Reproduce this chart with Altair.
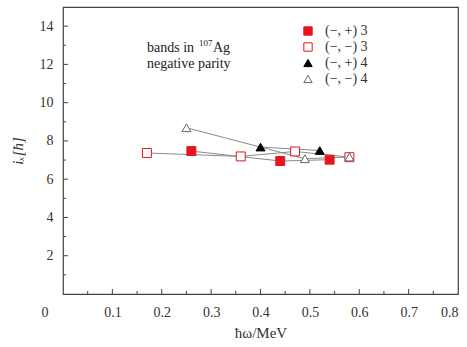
import altair as alt
import pandas as pd

bands = ["(−, +) 3", "(−, −) 3", "(−, +) 4", "(−, −) 4"]
x_a = [0.26, 0.44, 0.54]
y_a = [7.47, 6.95, 7.02]
x_b = [0.17, 0.36, 0.47, 0.58]
y_b = [7.37, 7.19, 7.45, 7.15]
x_c = [0.40, 0.52]
y_c = [7.68, 7.50]
x_d = [0.25, 0.49, 0.58]
y_d = [8.69, 7.07, 7.16]

fills = ["#e8141c", "white", "black", "white"]
strokes = ["#e8141c", "#e8141c", "black", "#666666"]
shapes = ["square", "square", "triangle-up", "triangle-up"]

rows = []
for b, xs, ys in zip(bands, [x_a, x_b, x_c, x_d], [y_a, y_b, y_c, y_d]):
    for i, (xv, yv) in enumerate(zip(xs, ys)):
        rows.append({"band": b, "w": xv, "ix": yv, "k": i})
df = pd.DataFrame(rows)

x_labels = [0, 0.1, 0.2, 0.3, 0.4, 0.5, 0.6, 0.7, 0.8]
x_major = [0.1, 0.2, 0.3, 0.4, 0.5, 0.6, 0.7]
x_minor = [0.05, 0.15, 0.25, 0.35, 0.45, 0.55, 0.65, 0.75]
y_major = [2, 4, 6, 8, 10, 12, 14]
y_minor = [1, 3, 5, 7, 9, 11, 13]

W, H = 395, 287
SERIF = "Liberation Serif"

xs = alt.Scale(domain=[0, 0.8], nice=False)
ys = alt.Scale(domain=[0, 15], nice=False)

base = alt.Chart(df)

xaxis = alt.Axis(title="ħω/MeV", values=x_labels, format=".1f",
                 labelExpr="datum.value == 0 ? '' : datum.label", titlePadding=6)
yaxis = alt.Axis(title="iₓ[ħ]", values=y_major, titleFontStyle="italic", titlePadding=14,
                 labelPadding=10)

lines = base.mark_line(color="#8a8a8a", strokeWidth=1).encode(
    x=alt.X("w:Q", scale=xs, axis=xaxis),
    y=alt.Y("ix:Q", scale=ys, axis=yaxis),
    detail="band:N",
    order="k:Q",
)

sc_shape = alt.Scale(domain=bands, range=shapes)
sc_fill = alt.Scale(domain=bands, range=fills)
sc_stroke = alt.Scale(domain=bands, range=strokes)
leg = alt.Legend(title=None, orient="none", legendX=238, legendY=17)

points = base.mark_point(opacity=1, strokeWidth=1, size=80).encode(
    x=alt.X("w:Q", scale=xs, axis=xaxis),
    y=alt.Y("ix:Q", scale=ys, axis=yaxis),
    shape=alt.Shape("band:N", scale=sc_shape, legend=leg, sort=bands),
    fill=alt.Fill("band:N", scale=sc_fill, legend=leg, sort=bands),
    stroke=alt.Stroke("band:N", scale=sc_stroke, legend=leg, sort=bands),
)

def xticks(vals, length):
    return alt.Chart(pd.DataFrame({"t": vals})).mark_rule(color="#444", strokeWidth=1).encode(
        x=alt.X("t:Q", scale=xs), y=alt.value(H), y2=alt.value(H - length))

def yticks(vals, length):
    return alt.Chart(pd.DataFrame({"t": vals})).mark_rule(color="#444", strokeWidth=1).encode(
        y=alt.Y("t:Q", scale=ys), x=alt.value(0), x2=alt.value(length))

def label(txt, x, y, size):
    return alt.Chart(pd.DataFrame({"t": [txt]})).mark_text(
        font=SERIF, fontSize=size, color="#222", align="left", baseline="alphabetic").encode(
        text="t:N", x=alt.value(x), y=alt.value(y))

origin = alt.Chart(pd.DataFrame({"t": ["0"]})).mark_text(
    font=SERIF, fontSize=14, color="#333").encode(
    text="t:N", x=alt.value(-18), y=alt.value(H + 19))

chart = alt.layer(
    lines, points,
    xticks(x_major, 5), xticks(x_minor, 3), yticks(y_major, 5), yticks(y_minor, 3),
    origin,
    label("bands in", 84, 45, 14), label("107", 136, 39, 9), label("Ag", 150, 45, 14),
    label("negative parity", 84, 61, 14),
).properties(
    width=W, height=H,
    autosize=alt.AutoSizeParams(type="none"),
    padding={"left": 63, "top": 7, "right": 9, "bottom": 53},
).configure(background="white").configure_view(
    stroke="#444", strokeWidth=1.2
).configure_axis(
    ticks=False, grid=False, domain=False, labelPadding=11,
    labelFont=SERIF, labelFontSize=14, labelColor="#333",
    titleFont=SERIF, titleFontSize=15, titleFontWeight="normal", titleColor="#333",
).configure_legend(
    labelFont=SERIF, labelFontSize=14, labelColor="#333", symbolSize=70,
    rowPadding=2, labelOffset=10, symbolStrokeWidth=1,
)

chart.save("out.html", embed_options={"renderer": "svg", "actions": False})
